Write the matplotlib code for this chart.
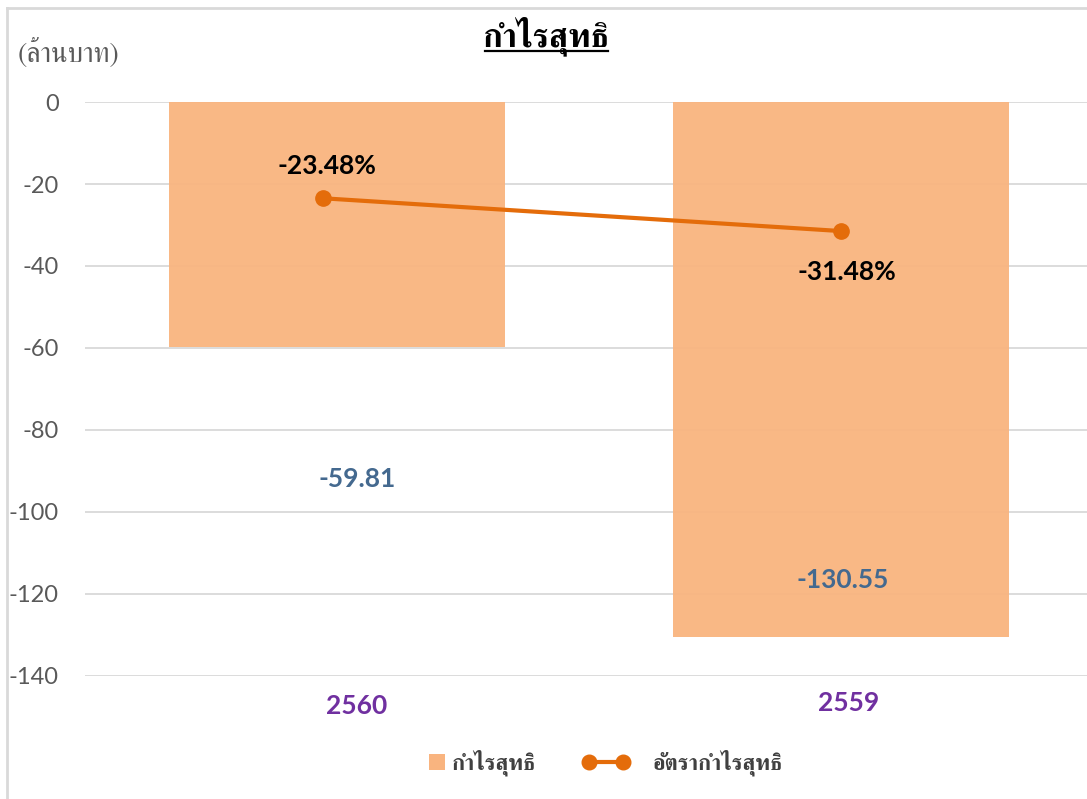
import numpy as np
import matplotlib
matplotlib.use("Agg")
import matplotlib.pyplot as plt
from matplotlib.lines import Line2D
from matplotlib.patches import Patch, Rectangle
from matplotlib.legend_handler import HandlerPatch

plt.rcParams["axes.unicode_minus"] = False

# ---- data ----
years = ["2560", "2559"]
net_profit = [-59.81, -130.55]          # ล้านบาท
profit_margin = [-23.48, -31.48]        # %
bar_label_y = [-92.0, -116.5]           # where the value labels sit
margin_label_y = [-15.6, -41.5]

thai_font = ["FreeSerif", "DejaVu Serif"]
num_font = ["Lato", "DejaVu Sans"]

bar_color = "#F9B47F"
line_color = "#E46C0A"
grid_color = "#D9D9D9"
tick_color = "#595959"

W, H = 1087, 799
PX = 504.0  # pixels per category

fig = plt.figure(figsize=(W / 100, H / 100), dpi=100)
ax = fig.add_axes([85 / W, 1 - 676 / H, 1 - 85 / W, (676 - 102) / H])

x = np.arange(len(years))
ax.bar(x, net_profit, width=0.665, color=bar_color, alpha=0.95, zorder=2)
# the line series sits a touch left of the first bar centre in the original
line_x = x + np.array([-14, 0]) / PX
ax.plot(line_x, profit_margin, color=line_color, lw=3, marker="o",
        markersize=11, zorder=3)

ax.set_xlim(-0.5, 1 + (W - 841) / PX)
ax.set_ylim(-140, 0)
ax.set_yticks(np.arange(-140, 1, 20))
ax.yaxis.grid(True, color=grid_color, lw=1.3)
ax.set_axisbelow(True)
for s in ax.spines.values():
    s.set_visible(False)

ax.tick_params(axis="y", length=0, pad=19, labelsize=17, labelcolor=tick_color)
for t in ax.get_yticklabels():
    t.set_family(num_font)
ax.set_xticks([])

# category labels
year_dx = np.array([20, 8]) / PX
year_dy = [-30 / 574, -27 / 574]
for i, yr in enumerate(years):
    ax.text(x[i] + year_dx[i], year_dy[i], yr, transform=ax.get_xaxis_transform(),
            ha="center", va="center", fontsize=19, fontweight="bold",
            color="#7030A0", family=num_font)

# value labels
label_dx = np.array([20, 2]) / PX
for i, v in enumerate(net_profit):
    ax.text(x[i] + label_dx[i], bar_label_y[i], f"{v:.2f}", ha="center", va="center",
            fontsize=19, fontweight="bold", color="#44698F", family=num_font)
margin_dx = np.array([4, 6]) / PX
for i, v in enumerate(profit_margin):
    ax.text(line_x[i] + margin_dx[i], margin_label_y[i], f"{v:.2f}%", ha="center",
            va="center", fontsize=19, fontweight="bold", color="black", family=num_font)

# title + unit
fig.text(546 / W, 1 - 36 / H, "กำไรสุทธิ", ha="center", va="center",
         fontsize=24, fontweight="bold", family=thai_font)
fig.add_artist(Line2D([485 / W, 608 / W], [1 - 51 / H, 1 - 51 / H], color="black", lw=1.6))
fig.text(18 / W, 1 - 53 / H, "(ล้านบาท)", ha="left", va="center", fontsize=20,
         color=tick_color, family=thai_font)

# chart frame
fig.add_artist(Line2D([7 / W, 7 / W], [0, 1 - 8 / H], color=grid_color, lw=2))
fig.add_artist(Line2D([7 / W, 1], [1 - 8 / H, 1 - 8 / H], color=grid_color, lw=2))


class SquareHandler(HandlerPatch):
    def create_artists(self, legend, orig_handle, xdescent, ydescent, width, height,
                       fontsize, trans):
        s = 11.5
        p = Rectangle((width - xdescent, (height - s) / 2 - ydescent), s, s,
                      facecolor=orig_handle.get_facecolor(), edgecolor="none",
                      transform=trans)
        return [p]


# legend
sq = Patch(color=bar_color)
ln = Line2D([], [], color=line_color, lw=3, marker="o", markersize=10.5)
fig.legend([sq, ln], ["กำไรสุทธิ", "อัตรากำไรสุทธิ"], loc="center", ncol=2,
           bbox_to_anchor=(582 / W, 1 - 763 / H), frameon=False, numpoints=2,
           handlelength=2.13, handletextpad=1.04, columnspacing=2.07,
           handler_map={Patch: SquareHandler()},
           prop={"family": thai_font, "size": 16, "weight": "bold"},
           labelcolor="#404040")

fig.savefig("out.png")
